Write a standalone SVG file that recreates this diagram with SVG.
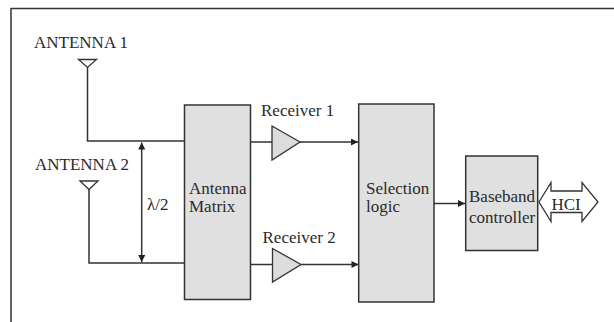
<svg xmlns="http://www.w3.org/2000/svg" width="614" height="322" viewBox="0 0 614 322">
<defs>
<style>
.t{font-family:"Liberation Serif","Times New Roman",serif;font-size:17px;fill:#2a2a2a}
.ln{fill:none;stroke:#333;stroke-width:1.5}
.box{fill:#e0e0e0;stroke:#333;stroke-width:1.5}
.ant{fill:#fff;stroke:#333;stroke-width:1.3}
.amp{fill:#dcdcdc;stroke:#333;stroke-width:1.3}
</style>
<marker id="ah" viewBox="0 0 10 10" refX="10" refY="5" markerWidth="8" markerHeight="7" markerUnits="userSpaceOnUse" orient="auto-start-reverse">
<path d="M0,0 L10,5 L0,10 Z" fill="#222"/>
</marker>
</defs>
<rect width="614" height="322" fill="#fff"/>
<path class="ln" d="M11,322 V8.5 H614"/>

<g id="antenna1">
<text class="t" x="34" y="47.5">ANTENNA 1</text>
<path class="ant" d="M78.5,59.5 H96.5 L87.5,67.5 Z"/>
</g>
<g id="antenna2">
<text class="t" x="35" y="170">ANTENNA 2</text>
<path class="ant" d="M80,181 H98 L89,189.5 Z"/>
</g>
<g id="lambda">
<text class="t" x="147" y="210">λ/2</text>
</g>
<g id="matrix">
<rect class="box" x="184.5" y="105" width="66" height="194.5"/>
<text class="t" x="189" y="193.5">Antenna</text>
<text class="t" x="189" y="212">Matrix</text>
</g>
<g id="receiver1">
<text class="t" x="261" y="116">Receiver 1</text>
<path class="amp" d="M272,126 L300,142 L272,160 Z"/>
</g>
<g id="receiver2">
<text class="t" x="262.5" y="242.5">Receiver 2</text>
<path class="amp" d="M272.5,248.5 L301,264.5 L272.5,282 Z"/>
</g>
<g id="selection">
<rect class="box" x="358.7" y="104" width="75.3" height="198"/>
<text class="t" x="366" y="193.5">Selection</text>
<text class="t" x="366" y="212">logic</text>
</g>
<g id="baseband">
<rect class="box" x="465.7" y="156" width="72" height="94.5"/>
<text class="t" x="469" y="201.5">Baseband</text>
<text class="t" x="469" y="222.5">controller</text>
</g>
<g id="hci">
<path fill="#fff" stroke="#333" stroke-width="1.3" d="M539,202 L551,182.5 V191 H582 V182.5 L598,202 L582,221.5 V212.5 H551 V221.5 Z"/>
<text class="t" x="551.5" y="209.5">HCI</text>
</g>

<g id="connectors">
<path class="ln" d="M87.5,67.5 V141 H184.5"/>
<path class="ln" d="M89,189.5 V263 H184.5"/>
<path class="ln" d="M141.7,142.5 V262" marker-start="url(#ah)" marker-end="url(#ah)"/>
<path class="ln" d="M250.5,142 H272"/>
<path class="ln" d="M300,142 H358" marker-end="url(#ah)"/>
<path class="ln" d="M250.5,264.5 H272.5"/>
<path class="ln" d="M301,264.5 H358.5" marker-end="url(#ah)"/>
<path class="ln" d="M434,203.5 H465" marker-end="url(#ah)"/>
</g>
</svg>
